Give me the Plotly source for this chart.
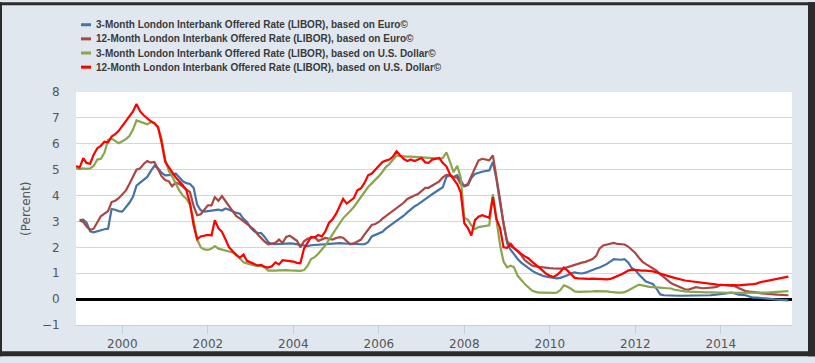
import plotly.graph_objects as go
import pandas as pd

# ---------------- data (end-of-month values, monthly from Dec 1998 to Aug 2015) -------------
dates = pd.date_range("1998-12-01", periods=201, freq="MS")

series_names = [
    "3-Month London Interbank Offered Rate (LIBOR), based on Euro©",
    "12-Month London Interbank Offered Rate (LIBOR), based on Euro©",
    "3-Month London Interbank Offered Rate (LIBOR), based on U.S. Dollar©",
    "12-Month London Interbank Offered Rate (LIBOR), based on U.S. Dollar©",
]
series_colors = ["#4572A7", "#AA4643", "#89A54E", "#FF0000"]

euro_3m = [None,
    3.05, 3.07, 2.95, 2.62, 2.58, 2.62, 2.68, 2.70, 2.72, 3.48, 3.45, 3.40,   # 1999
    3.38, 3.55, 3.72, 3.95, 4.38, 4.50, 4.62, 4.72, 4.95, 5.15, 5.05, 4.88,   # 2000
    4.78, 4.78, 4.80, 4.85, 4.72, 4.55, 4.48, 4.45, 4.30, 3.65, 3.43, 3.38,   # 2001
    3.40, 3.42, 3.45, 3.46, 3.42, 3.50, 3.45, 3.38, 3.33, 3.30, 3.10, 2.98,   # 2002
    2.75, 2.62, 2.56, 2.55, 2.40, 2.20, 2.13, 2.12, 2.13, 2.14, 2.14, 2.15,   # 2003
    2.14, 2.12, 2.10, 2.08, 2.05, 2.08, 2.09, 2.11, 2.12, 2.12, 2.13, 2.16,   # 2004
    2.17, 2.16, 2.15, 2.14, 2.14, 2.14, 2.13, 2.12, 2.12, 2.20, 2.42, 2.48,   # 2005
    2.52, 2.60, 2.72, 2.82, 2.92, 3.02, 3.10, 3.22, 3.35, 3.48, 3.58, 3.66,   # 2006
    3.75, 3.85, 3.95, 4.05, 4.13, 4.22, 4.32, 4.72, 4.78, 4.72, 4.79, 4.60,   # 2007
    4.35, 4.40, 4.68, 4.83, 4.88, 4.92, 4.95, 4.97, 5.30, 4.65, 3.72, 2.95,   # 2008
    2.15, 1.90, 1.72, 1.55, 1.41, 1.30, 1.20, 1.10, 1.02, 0.95, 0.90, 0.87,   # 2009
    0.84, 0.81, 0.80, 0.82, 0.86, 0.92, 1.00, 1.03, 1.00, 0.99, 1.02, 1.08,   # 2010
    1.13, 1.18, 1.22, 1.28, 1.35, 1.45, 1.54, 1.53, 1.52, 1.54, 1.42, 1.20,   # 2011
    1.12, 0.95, 0.80, 0.68, 0.63, 0.58, 0.40, 0.18, 0.15, 0.14, 0.13, 0.13,   # 2012
    0.13, 0.13, 0.13, 0.13, 0.14, 0.14, 0.14, 0.14, 0.15, 0.15, 0.16, 0.17,   # 2013
    0.19, 0.21, 0.23, 0.25, 0.22, 0.17, 0.16, 0.15, 0.10, 0.06, 0.06, 0.05,   # 2014
    0.05, 0.04, 0.01, -0.01, -0.02, -0.03, -0.04, -0.05,                     # 2015
]

euro_12m = [None,
    3.05, 2.98, 2.80, 2.68, 2.72, 2.95, 3.20, 3.30, 3.40, 3.75, 3.80, 3.90,   # 1999
    4.05, 4.20, 4.45, 4.75, 5.00, 5.05, 5.22, 5.33, 5.27, 5.30, 5.05, 4.75,   # 2000
    4.60, 4.55, 4.36, 4.50, 4.45, 4.35, 4.25, 4.13, 3.60, 3.24, 3.28, 3.45,   # 2001
    3.62, 3.62, 3.94, 3.80, 3.98, 3.78, 3.60, 3.38, 3.20, 3.12, 3.00, 2.90,   # 2002
    2.80, 2.68, 2.50, 2.35, 2.22, 2.12, 2.15, 2.17, 2.30, 2.17, 2.40, 2.45,   # 2003
    2.35, 2.25, 2.00, 2.23, 2.33, 2.38, 2.40, 2.25, 2.30, 2.36, 2.33, 2.30,   # 2004
    2.36, 2.39, 2.37, 2.24, 2.12, 2.15, 2.24, 2.30, 2.50, 2.70, 2.86, 2.90,   # 2005
    2.98, 3.11, 3.20, 3.32, 3.43, 3.52, 3.62, 3.72, 3.87, 3.95, 4.00, 4.06,   # 2006
    4.18, 4.30, 4.30, 4.38, 4.45, 4.55, 4.70, 4.80, 4.78, 4.70, 4.70, 4.45,   # 2007
    4.38, 4.45, 4.75, 5.05, 5.35, 5.42, 5.40, 5.36, 5.55, 4.75, 3.85, 2.90,   # 2008
    2.25, 2.05, 1.95, 1.85, 1.70, 1.50, 1.40, 1.30, 1.26, 1.24, 1.22, 1.21,   # 2009
    1.20, 1.19, 1.18, 1.18, 1.19, 1.24, 1.29, 1.34, 1.39, 1.41, 1.44, 1.48,   # 2010
    1.55, 1.67, 1.95, 2.07, 2.10, 2.12, 2.17, 2.13, 2.11, 2.11, 2.03, 1.90,   # 2011
    1.78, 1.60, 1.45, 1.35, 1.25, 1.18, 1.10, 0.95, 0.85, 0.72, 0.62, 0.55,   # 2012
    0.50, 0.42, 0.38, 0.37, 0.42, 0.46, 0.44, 0.42, 0.43, 0.43, 0.45, 0.48,   # 2013
    0.55, 0.54, 0.53, 0.53, 0.50, 0.43, 0.36, 0.31, 0.29, 0.28, 0.26, 0.23,   # 2014
    0.21, 0.20, 0.19, 0.18, 0.17, 0.16, 0.15, 0.15,                         # 2015
]

usd_3m = [5.05,
    5.02, 5.05, 5.03, 5.05, 5.14, 5.39, 5.42, 5.65, 6.15, 6.20, 6.09, 6.02,   # 1999
    6.10, 6.18, 6.30, 6.55, 6.90, 6.84, 6.78, 6.75, 6.84, 6.78, 6.62, 6.20,   # 2000
    5.40, 4.95, 4.75, 4.45, 4.20, 4.00, 3.88, 3.65, 3.05, 2.30, 2.00, 1.92,   # 2001
    1.90, 1.95, 2.05, 1.95, 1.92, 1.88, 1.85, 1.80, 1.72, 1.55, 1.42, 1.38,   # 2002
    1.34, 1.32, 1.27, 1.28, 1.22, 1.10, 1.09, 1.10, 1.11, 1.12, 1.12, 1.11,   # 2003
    1.10, 1.10, 1.09, 1.12, 1.28, 1.55, 1.62, 1.75, 1.90, 2.08, 2.30, 2.52,   # 2004
    2.72, 2.93, 3.12, 3.25, 3.40, 3.56, 3.76, 3.95, 4.15, 4.33, 4.47, 4.60,   # 2005
    4.75, 4.92, 5.10, 5.22, 5.38, 5.55, 5.52, 5.50, 5.50, 5.50, 5.49, 5.48,   # 2006
    5.48, 5.47, 5.46, 5.45, 5.44, 5.43, 5.45, 5.67, 5.30, 4.90, 5.15, 4.70,   # 2007
    3.15, 3.06, 2.85, 2.70, 2.78, 2.80, 2.82, 2.85, 4.05, 3.15, 2.10, 1.45,   # 2008
    1.23, 1.29, 1.23, 0.90, 0.72, 0.58, 0.46, 0.33, 0.28, 0.25, 0.25, 0.24,   # 2009
    0.24, 0.24, 0.25, 0.35, 0.53, 0.48, 0.40, 0.30, 0.28, 0.28, 0.29, 0.30,   # 2010
    0.30, 0.31, 0.31, 0.30, 0.30, 0.28, 0.26, 0.25, 0.25, 0.27, 0.33, 0.40,   # 2011
    0.48, 0.56, 0.53, 0.49, 0.47, 0.46, 0.44, 0.44, 0.43, 0.43, 0.41, 0.36,   # 2012
    0.33, 0.31, 0.30, 0.29, 0.28, 0.28, 0.27, 0.27, 0.26, 0.26, 0.25, 0.25,   # 2013
    0.25, 0.24, 0.24, 0.24, 0.24, 0.23, 0.23, 0.23, 0.23, 0.23, 0.24, 0.24,   # 2014
    0.25, 0.25, 0.26, 0.27, 0.28, 0.28, 0.29, 0.31,                         # 2015
]

usd_12m = [5.14,
    5.08, 5.45, 5.26, 5.23, 5.58, 5.83, 5.92, 6.08, 6.06, 6.28, 6.37, 6.50,   # 1999
    6.70, 6.85, 7.05, 7.25, 7.54, 7.25, 7.10, 6.98, 6.87, 6.80, 6.65, 6.05,   # 2000
    5.30, 5.10, 4.90, 4.70, 4.55, 4.40, 4.20, 3.70, 2.85, 2.32, 2.42, 2.46,   # 2001
    2.48, 2.46, 3.05, 2.74, 2.60, 2.30, 2.00, 1.85, 1.70, 1.60, 1.72, 1.48,   # 2002
    1.42, 1.35, 1.30, 1.32, 1.25, 1.22, 1.27, 1.42, 1.34, 1.50, 1.48, 1.48,   # 2003
    1.45, 1.40, 1.38, 1.95, 2.20, 2.40, 2.38, 2.48, 2.42, 2.62, 2.95, 3.08,   # 2004
    3.30, 3.60, 3.87, 3.69, 3.81, 3.90, 4.20, 4.28, 4.50, 4.78, 4.85, 5.00,   # 2005
    5.15, 5.30, 5.35, 5.39, 5.50, 5.71, 5.56, 5.42, 5.33, 5.39, 5.33, 5.40,   # 2006
    5.45, 5.28, 5.26, 5.39, 5.43, 5.45, 5.26, 5.13, 4.82, 4.63, 4.44, 4.13,   # 2007
    2.93, 2.74, 2.46, 3.05, 3.18, 3.24, 3.18, 3.14, 3.94, 3.10, 2.75, 2.00,   # 2008
    1.98, 2.13, 1.98, 1.85, 1.75, 1.65, 1.58, 1.45, 1.32, 1.22, 1.10, 0.98,   # 2009
    0.90, 0.86, 0.93, 1.05, 1.22, 1.10, 0.95, 0.82, 0.80, 0.79, 0.79, 0.78,   # 2010
    0.79, 0.79, 0.78, 0.77, 0.76, 0.78, 0.83, 0.88, 0.95, 1.02, 1.10, 1.14,   # 2011
    1.12, 1.10, 1.10, 1.10, 1.09, 1.07, 1.03, 0.98, 0.95, 0.90, 0.86, 0.82,   # 2012
    0.78, 0.75, 0.72, 0.70, 0.68, 0.66, 0.64, 0.62, 0.60, 0.58, 0.56, 0.56,   # 2013
    0.55, 0.55, 0.56, 0.55, 0.54, 0.53, 0.55, 0.56, 0.57, 0.58, 0.60, 0.65,   # 2014
    0.68, 0.71, 0.73, 0.75, 0.78, 0.80, 0.84, 0.87,                         # 2015
]

series_values = [euro_3m, euro_12m, usd_3m, usd_12m]

y_title = "(Percent)"

# ---------------- layout constants -------------
W, H = 815, 363
ML, MR, MT, MB = 76, 23, 92, 32
PW, PH = W - ML - MR, H - MT - MB
BG = "#e0e7ef"
FRAME = "#2b2b2b"


def px(x):
    return (x - ML) / PW


def py(y):
    return (H - MB - y) / PH


fig = go.Figure()
for name, vals, col in zip(series_names, series_values, series_colors):
    fig.add_trace(go.Scatter(
        x=dates, y=vals, name=name, mode="lines",
        line=dict(color=col, width=2.2), connectgaps=False,
    ))

shapes = []
# dark frame around the picture
for (x0, x1, y0, y1) in [(0, W, 0, 3), (0, W, 358, H), (0, 2, 0, H), (808, W, 0, H)]:
    shapes.append(dict(type="rect", xref="paper", yref="paper",
                       x0=px(x0), x1=px(x1), y0=py(y1), y1=py(y0),
                       fillcolor=FRAME, line=dict(width=0), layer="above"))

annotations = []
legend_y = [23, 37.5, 52, 66.5]
for name, col, yc in zip(series_names, series_colors, legend_y):
    shapes.append(dict(type="line", xref="paper", yref="paper",
                       x0=px(81), x1=px(91), y0=py(yc), y1=py(yc),
                       line=dict(color=col, width=3)))
    annotations.append(dict(text="<b>" + name + "</b>", xref="paper", yref="paper",
                            x=px(94), y=py(yc), xanchor="left", yanchor="middle",
                            showarrow=False,
                            font=dict(family="Liberation Sans, Arial, sans-serif",
                                      size=10, color="#3a3a3a")))

annotations.append(dict(text=y_title, xref="paper", yref="paper",
                        x=px(26), y=py(212), textangle=-90, showarrow=False,
                        xanchor="center", yanchor="middle",
                        font=dict(family="DejaVu Sans, Verdana, sans-serif", size=12, color="#555555")))

fig.update_layout(
    width=W, height=H,
    margin=dict(l=ML, r=MR, t=MT, b=MB, pad=0),
    paper_bgcolor=BG, plot_bgcolor="#ffffff",
    showlegend=False,
    shapes=shapes, annotations=annotations,
    font=dict(family="DejaVu Sans, Verdana, sans-serif", size=12, color="#555555"),
    xaxis=dict(
        type="date", range=["1998-12-01", "2015-09-01"],
        tick0="2000-01-01", dtick="M24", tickformat="%Y",
        showgrid=False, showline=True, linecolor="#c0d0e0", linewidth=1,
        ticks="outside", ticklen=8, tickcolor="#c0d0e0", tickwidth=1,
        tickfont=dict(size=12, color="#555555"), zeroline=False,
    ),
    yaxis=dict(
        range=[-1, 8], dtick=1, tick0=0,
        showgrid=True, gridcolor="#d6d6d6", gridwidth=1,
        zeroline=True, zerolinecolor="#000000", zerolinewidth=3,
        showline=False, ticks="outside", ticklen=13, tickcolor="rgba(0,0,0,0)",
        tickfont=dict(size=12, color="#555555"),
    ),
)

fig.write_html("out.html", config={"displayModeBar": False},
               post_script="document.body.style.margin='0';")
